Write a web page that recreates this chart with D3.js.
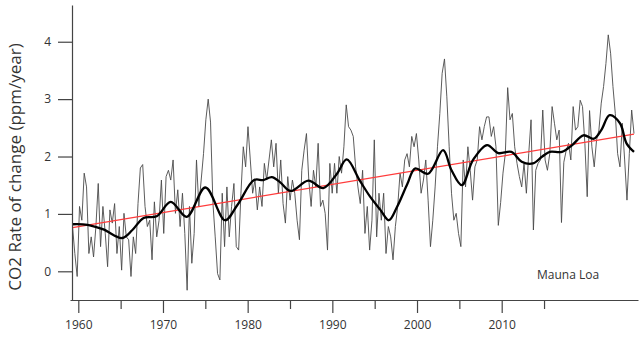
<!DOCTYPE html>
<html>
<head>
<meta charset="utf-8">
<script src="https://cdn.jsdelivr.net/npm/d3@7"></script>
<style>
  html, body { margin: 0; padding: 0; background: #fff; }
  svg { display: block; }
  text { font-family: "Open Sans", "DejaVu Sans", sans-serif; fill: #333; }
</style>
</head>
<body>
<svg id="chart" width="640" height="339"></svg>
<script>
// ---- Data ----
// Growth rate, sampled every quarter year from 1959.00 to 2019.00
const rateStart = 1959;
const rateStep = 0.25;
const rateValues = [
  0.78, 0.31, -0.09, 1.13, 0.89, 1.71, 1.47, 0.31, 0.60, 0.25,
  0.78, 1.53, 0.43, 1.13, 0.66, 0.08, 1.07, 0.84, 1.18, 0.31,
  0.78, 0.02, 1.01, 0.60, 0.55, -0.09, 0.60, 0.31, 1.18, 1.80,
  1.86, 1.13, 0.78, 0.89, 0.20, 1.21, 0.60, 0.89, 1.59, 0.66,
  1.65, 1.76, 1.59, 1.94, 1.01, 1.42, 0.78, 1.36, 0.66, -0.33,
  1.13, 0.14, 0.66, 1.94, 1.13, 1.59, 2.05, 2.64, 3.00, 2.60,
  1.20, 0.60, -0.04, -0.15, 1.36, 0.43, 1.47, 0.60, 1.13, 1.53,
  0.43, 0.37, 1.36, 2.17, 1.82, 2.52, 1.94, 1.36, 1.59, 1.07,
  1.47, 1.13, 1.88, 1.59, 1.94, 2.29, 1.82, 2.23, 1.36, 1.94,
  1.18, 0.84, 1.65, 1.24, 1.59, 1.36, 0.89, 0.55, 1.76, 2.11,
  2.40, 1.59, 1.13, 1.76, 1.47, 2.23, 1.13, 1.24, 1.01, 0.37,
  1.88, 1.36, 1.88, 1.36, 2.00, 1.71, 2.17, 2.90, 2.52, 2.46,
  2.35, 1.82, 1.47, 1.18, 1.76, 0.66, 1.13, 0.37, 0.89, 2.29,
  0.60, 1.36, 0.89, 1.36, 0.31, 0.78, 0.60, 0.20, 0.78, 1.13,
  1.71, 1.47, 1.94, 2.05, 1.82, 2.35, 2.17, 2.40, 1.94, 1.36,
  1.59, 1.94, 1.24, 0.43, 0.89, 1.47, 2.17, 2.75, 3.45, 3.70,
  3.04, 2.17, 1.36, 0.89, 1.01, 0.66, 0.43, 1.94, 1.47, 2.17,
  1.76, 1.24, 1.82, 1.94, 2.52, 2.29, 2.52, 2.69, 2.69, 2.35,
  2.52, 2.17, 0.80, 1.20, 1.71, 2.05, 3.20, 2.64, 2.75, 2.17,
  1.88, 1.65, 1.47, 1.88, 1.36, 2.05, 2.64, 0.72, 1.76, 1.88,
  1.94, 2.81, 1.94, 1.76, 2.05, 2.87, 2.58, 2.29, 2.46, 0.85,
  1.90, 2.10, 2.23, 1.94, 2.87, 2.46, 2.52, 2.98, 2.87, 2.23,
  1.30, 2.80, 2.17, 1.82, 2.29, 2.46, 2.93, 3.22, 3.62, 4.12,
  3.80, 3.22, 2.75, 2.05, 1.82, 2.58, 1.94, 1.24, 2.05, 2.81,
  2.40
];

// Smoothed curve (black)
const smoothYears = [1959.0, 1960.6, 1962.3, 1964.3, 1965.4, 1966.6, 1968.0, 1969.5, 1971.2, 1973.2,
  1975.3, 1976.6, 1978.4, 1979.4, 1980.3, 1981.2, 1982.3, 1984.2, 1985.8, 1987.3,
  1988.3, 1989.7, 1990.8, 1991.9, 1992.8, 1993.7, 1994.8, 1995.6, 1997.0, 1998.6,
  1999.5, 2000.6, 2001.8, 2003.3, 2004.5, 2005.9, 2007.0, 2008.2, 2009.2, 2010.0,
  2011.3, 2012.4, 2013.6, 2014.7, 2015.5, 2016.4, 2017.5, 2018.2, 2019.0];
const smoothValues = [0.82, 0.81, 0.73, 0.58, 0.72, 0.93, 0.96, 1.21, 0.95, 1.46,
  0.89, 1.15, 1.59, 1.59, 1.64, 1.55, 1.40, 1.58, 1.45, 1.71,
  1.95, 1.58, 1.30, 1.07, 0.89, 1.13, 1.53, 1.79, 1.70, 2.11,
  1.76, 1.50, 1.94, 2.20, 2.06, 2.08, 1.91, 1.88, 2.00, 2.08,
  2.08, 2.20, 2.37, 2.31, 2.46, 2.72, 2.58, 2.23, 2.08];

// Linear trend (red)
const trendYears = [1959, 2019];
const trendValues = [0.76, 2.39];

// Axis ticks / labels
const yTicks = [0, 1, 2, 3, 4];
const xMajorTicks = [1960, 1970, 1980, 1990, 2000, 2010];
const xMinorTicks = [1965, 1975, 1985, 1995, 2005, 2015];
const yLabel = "CO2 Rate of change (ppm/year)";
const stationLabel = "Mauna Loa";

// ---- Drawing ----
const svg = d3.select("#chart");

const y = d3.scaleLinear().domain([-0.5, 4.64]).range([300, 5]);
// data time scale
const xData = d3.scaleLinear().domain([1959, 2019]).range([72.5, 634]);
// labelled axis scale (as printed on the reference)
const xAxisScale = d3.scaleLinear().domain([1960, 2010]).range([78.3, 501.7]);
xAxisScale.domain([xAxisScale.invert(70), xAxisScale.invert(638)]).range([70, 638]);

const axisColor = "#444";

// grey raw series
const rateData = rateValues.map((v, i) => ({ t: rateStart + i * rateStep, v }));
svg.append("path")
  .datum(rateData)
  .attr("fill", "none")
  .attr("stroke", "#4a4a4a")
  .attr("stroke-width", 0.9)
  .attr("stroke-linejoin", "round")
  .attr("d", d3.line().x(d => xData(d.t)).y(d => y(d.v)));

// red trend
svg.append("path")
  .datum(trendYears.map((t, i) => ({ t, v: trendValues[i] })))
  .attr("fill", "none")
  .attr("stroke", "#ff3b3b")
  .attr("stroke-width", 1.3)
  .attr("d", d3.line().x(d => xData(d.t)).y(d => y(d.v)));

// black smooth
svg.append("path")
  .datum(smoothYears.map((t, i) => ({ t, v: smoothValues[i] })))
  .attr("fill", "none")
  .attr("stroke", "#000")
  .attr("stroke-width", 2.3)
  .attr("d", d3.line().curve(d3.curveCatmullRom.alpha(0.5)).x(d => xData(d.t)).y(d => y(d.v)));

// Y axis
const gy = svg.append("g")
  .attr("transform", "translate(72,0)")
  .call(d3.axisLeft(y).tickValues(yTicks).tickSize(14).tickSizeOuter(0).tickPadding(7).tickFormat(d3.format("d")));
gy.selectAll("path, line").attr("stroke", axisColor).attr("stroke-width", 1.2);
gy.selectAll("text").style("font-size", "12px").attr("fill", "#333");

// X axis
const gx = svg.append("g")
  .attr("transform", "translate(0,300)")
  .call(d3.axisBottom(xAxisScale).tickValues(xMajorTicks).tickSize(13).tickSizeOuter(0).tickPadding(7).tickFormat(d3.format("d")));
gx.selectAll("path, line").attr("stroke", axisColor).attr("stroke-width", 1.2);
gx.selectAll("text").style("font-size", "12px").attr("fill", "#333");

// minor x ticks
svg.append("g")
  .selectAll("line")
  .data(xMinorTicks)
  .join("line")
  .attr("x1", d => xAxisScale(d) + 0.5)
  .attr("x2", d => xAxisScale(d) + 0.5)
  .attr("y1", 300)
  .attr("y2", 309)
  .attr("stroke", axisColor)
  .attr("stroke-width", 1.2);

// Y label
svg.append("text")
  .attr("transform", "translate(21,167) rotate(-90)")
  .attr("text-anchor", "middle")
  .style("font-size", "17px")
  .attr("fill", "#333")
  .text(yLabel);

// Station label
svg.append("text")
  .attr("x", 537)
  .attr("y", 279)
  .style("font-size", "12px")
  .attr("fill", "#222")
  .text(stationLabel);
</script>
</body>
</html>
